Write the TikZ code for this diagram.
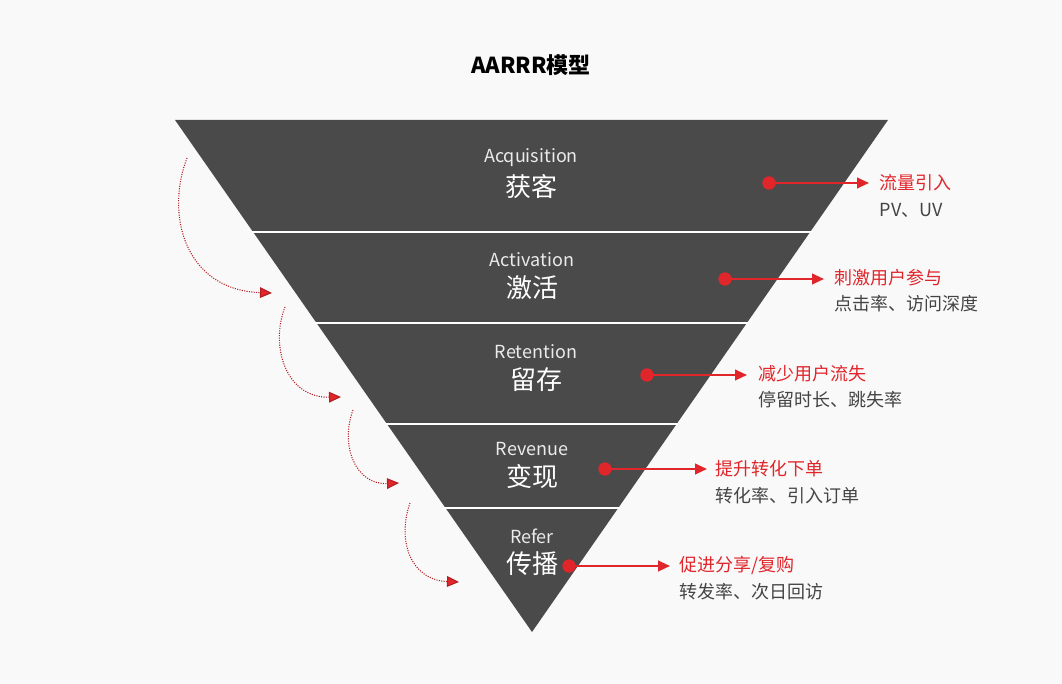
\documentclass[tikz,border=0pt]{standalone}
\usepackage{fontspec}
\setmainfont{Noto Sans CJK SC}
\usetikzlibrary{arrows.meta}
\definecolor{bg}{HTML}{F9F9F9}
\definecolor{band}{HTML}{4A4A4A}
\definecolor{rd}{HTML}{E0262B}
\definecolor{txt}{HTML}{444444}
\tikzset{
  en/.style={text=white!92!black,font=\fontsize{13.5}{15}\selectfont},
  cn/.style={text=white,font=\fontsize{19.5}{22}\selectfont},
  lab/.style={anchor=west,text=rd,font=\fontsize{13.5}{15}\selectfont},
  sub/.style={anchor=west,text=txt,font=\fontsize{13.5}{15}\selectfont},
  dot/.style={circle,fill=rd,inner sep=0pt,minimum size=10pt},
  rarr/.style={draw=rd,line width=1.5pt,-{Triangle[length=9pt,width=8pt]}},
  flow/.style={draw=rd!80!black,densely dotted,line width=0.8pt,-{Triangle[length=9pt,width=8pt,fill=rd]}},
  sep/.style={draw=white,line width=1.2pt}
}
\begin{document}
\begin{tikzpicture}[x=0.75pt,y=-0.75pt]
\fill[bg] (0,0) rectangle (1062,684);
\useasboundingbox (0,0) rectangle (1062,684);
\node[font=\fontsize{16.5}{18}\selectfont\bfseries,text=black] (title) at (531,65) {AARRR模型};
\fill[band] (175,120) -- (888,120) -- (532,632) -- cycle;
\draw[sep] (252,232) -- (812,232);
\draw[sep] (315,323) -- (748,323);
\draw[sep] (385,424) -- (678,424);
\draw[sep] (443,508) -- (620,508);
\node[en] (e1) at (531,158) {Acquisition};
\node[cn] (c1) at (531,187) {获客};
\node[en] (e2) at (532,260) {Activation};
\node[cn] (c2) at (532,288) {激活};
\node[en] (e3) at (536,352) {Retention};
\node[cn] (c3) at (536,380) {留存};
\node[en] (e4) at (532,449) {Revenue};
\node[cn] (c4) at (532,477) {变现};
\node[en] (e5) at (532,536) {Refer};
\node[cn] (c5) at (532,564) {传播};
% right side
\node[dot] (d1) at (769,183) {};
\coordinate (a1) at (869,183);
\draw[rarr] (d1.center) -- (a1);
\node[lab] (l1) at (875,183) {流量引入};
\node[sub] (s1) at (875,210) {PV、UV};
\node[dot] (d2) at (725,279) {};
\coordinate (a2) at (824,279);
\draw[rarr] (d2.center) -- (a2);
\node[lab] (l2) at (830,278) {刺激用户参与};
\node[sub] (s2) at (830,304) {点击率、访问深度};
\node[dot] (d3) at (647,375) {};
\coordinate (a3) at (747,375);
\draw[rarr] (d3.center) -- (a3);
\node[lab] (l3) at (754,374) {减少用户流失};
\node[sub] (s3) at (754,400) {停留时长、跳失率};
\node[dot] (d4) at (605,469) {};
\coordinate (a4) at (707,469);
\draw[rarr] (d4.center) -- (a4);
\node[lab] (l4) at (711,469) {提升转化下单};
\node[sub] (s4) at (711,496) {转化率、引入订单};
\node[dot] (d5) at (569,566) {};
\coordinate (a5) at (670,566);
\draw[rarr] (d5.center) -- (a5);
\node[lab] (l5) at (675,565) {促进分享/复购};
\node[sub] (s5) at (675,592) {转发率、次日回访};
% left flow arrows
\coordinate (f1s) at (187,158); \coordinate (f1e) at (272,293);
\coordinate (f2s) at (285,307); \coordinate (f2e) at (341,397);
\coordinate (f3s) at (353,410); \coordinate (f3e) at (399,483);
\coordinate (f4s) at (410,503); \coordinate (f4e) at (459,582);
\draw[flow] (f1s) .. controls (165,215) and (185,290) .. (f1e);
\draw[flow] (f2s) .. controls (270,345) and (285,398) .. (f2e);
\draw[flow] (f3s) .. controls (340,445) and (355,485) .. (f3e);
\draw[flow] (f4s) .. controls (397,540) and (410,580) .. (f4e);
\end{tikzpicture}
\end{document}
